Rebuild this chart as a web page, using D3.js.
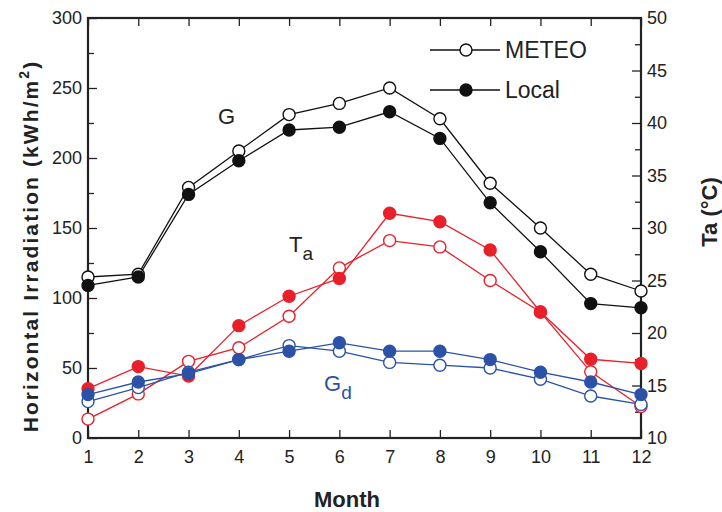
<!DOCTYPE html>
<html>
<head>
<meta charset="utf-8">
<script src="https://cdn.jsdelivr.net/npm/d3@7"></script>
<style>
  body { margin: 0; background: #fff; }
  text { font-family: "Liberation Sans Narrow", "Arial Narrow", "Liberation Sans", sans-serif; }
  .title { font-family: "Liberation Sans", Arial, sans-serif; font-weight: bold; }
</style>
</head>
<body>
<div id="chart"></div>
<script>
// monthly data
var months = [1, 2, 3, 4, 5, 6, 7, 8, 9, 10, 11, 12];

var gMeteo = [115, 117, 179, 205, 231, 239, 250, 228, 182, 150, 117, 105];
var gLocal = [109, 115, 174, 198, 220, 222, 233, 214, 168, 133, 96, 93];

var gdMeteo = [26, 36, 47, 56, 66, 62, 54, 52, 50, 42, 30, 24];
var gdLocal = [31, 40, 46, 56, 62, 68, 62, 62, 56, 47, 40, 31];

// air temperature, right axis (degC)
var taMeteo = [11.8, 14.2, 17.3, 18.6, 21.6, 26.2, 28.8, 28.2, 25.0, 22.0, 16.3, 13.0];
var taLocal = [14.7, 16.8, 15.9, 20.7, 23.5, 25.2, 31.4, 30.6, 27.9, 22.0, 17.5, 17.1];

var leftTicks = [0, 50, 100, 150, 200, 250, 300];
var rightTicks = [10, 15, 20, 25, 30, 35, 40, 45, 50];

var svgWidth = 722;
var svgHeight = 512;
var margin = { top: 18, right: 81, bottom: 74, left: 88 };
var width = svgWidth - margin.left - margin.right;
var height = svgHeight - margin.top - margin.bottom;

var red = "#e8202a";
var blue = "#2c52a8";

var svg = d3.select("#chart")
  .append("svg")
  .attr("width", svgWidth)
  .attr("height", svgHeight);

var chartGroup = svg.append("g")
  .attr("transform", `translate(${margin.left}, ${margin.top})`);

var xScale = d3.scaleLinear().domain([1, 12]).range([0, width]);
var yLeft = d3.scaleLinear().domain([0, 300]).range([height, 0]);
var yRight = d3.scaleLinear().domain([10, 50]).range([height, 0]);

// axes, ticks pointing inward
var bottomAxis = d3.axisBottom(xScale).tickValues(months).tickSizeInner(-8).tickSizeOuter(0).tickPadding(12);
var topAxis = d3.axisTop(xScale).tickValues(months).tickSizeInner(-8).tickSizeOuter(0).tickFormat("");
var leftAxis = d3.axisLeft(yLeft).tickValues(leftTicks).tickSizeInner(-9).tickSizeOuter(0).tickPadding(6);
var leftMinor = d3.axisLeft(yLeft).tickValues(d3.range(25, 300, 50)).tickSizeInner(-6).tickSizeOuter(0).tickFormat("");
var rightAxis = d3.axisRight(yRight).tickValues(rightTicks).tickSizeInner(-9).tickSizeOuter(0).tickPadding(6);
var rightMinor = d3.axisRight(yRight).tickValues(d3.range(12.5, 50, 5)).tickSizeInner(-6).tickSizeOuter(0).tickFormat("");

function styleAxis(g) {
  g.select(".domain").remove();
  g.selectAll(".tick line").attr("stroke", "#222").attr("stroke-width", 1.3);
  g.selectAll(".tick text").attr("fill", "#222").style("font-size", "18px");
}

chartGroup.append("g").attr("transform", `translate(0, ${height})`).call(bottomAxis).call(styleAxis);
chartGroup.append("g").call(topAxis).call(styleAxis);
chartGroup.append("g").call(leftAxis).call(styleAxis);
chartGroup.append("g").call(leftMinor).call(styleAxis);
chartGroup.append("g").attr("transform", `translate(${width}, 0)`).call(rightAxis).call(styleAxis);
chartGroup.append("g").attr("transform", `translate(${width}, 0)`).call(rightMinor).call(styleAxis);

// frame
chartGroup.append("rect")
  .attr("width", width)
  .attr("height", height)
  .attr("fill", "none")
  .attr("stroke", "#222")
  .attr("stroke-width", 2.2);

// series
var series = [
  { values: gMeteo, y: yLeft, color: "#111", open: true },
  { values: gLocal, y: yLeft, color: "#111", open: false },
  { values: taMeteo, y: yRight, color: red, open: true },
  { values: taLocal, y: yRight, color: red, open: false },
  { values: gdMeteo, y: yLeft, color: blue, open: true },
  { values: gdLocal, y: yLeft, color: blue, open: false }
];

series.forEach(function(s) {
  var line = d3.line()
    .x((d, i) => xScale(months[i]))
    .y(d => s.y(d));

  chartGroup.append("path")
    .datum(s.values)
    .attr("d", line)
    .attr("fill", "none")
    .attr("stroke", s.color)
    .attr("stroke-width", 1.3);

  chartGroup.selectAll(null)
    .data(s.values)
    .enter()
    .append("circle")
    .attr("cx", (d, i) => xScale(months[i]))
    .attr("cy", d => s.y(d))
    .attr("r", 6)
    .attr("fill", s.open ? "#fff" : s.color)
    .attr("stroke", s.color)
    .attr("stroke-width", 1.4);
});

// series labels
chartGroup.append("text")
  .attr("x", 130).attr("y", 106)
  .style("font-size", "22px").attr("fill", "#222")
  .text("G");

var taLabel = chartGroup.append("text")
  .attr("x", 201).attr("y", 234)
  .style("font-size", "22px").attr("fill", "#222");
taLabel.append("tspan").text("T");
taLabel.append("tspan").attr("dy", 8).style("font-size", "19px").text("a");

var gdLabel = chartGroup.append("text")
  .attr("x", 236).attr("y", 373)
  .style("font-size", "22px").attr("fill", blue);
gdLabel.append("tspan").text("G");
gdLabel.append("tspan").attr("dy", 8).style("font-size", "19px").text("d");

// legend
var legendItems = [
  { label: "METEO", open: true, y: 32 },
  { label: "Local", open: false, y: 72 }
];

legendItems.forEach(function(item) {
  var g = chartGroup.append("g").attr("transform", `translate(342, ${item.y})`);
  g.append("line")
    .attr("x1", 0).attr("x2", 70)
    .attr("stroke", "#111").attr("stroke-width", 1.3);
  g.append("circle")
    .attr("cx", 36).attr("r", 6)
    .attr("fill", item.open ? "#fff" : "#111")
    .attr("stroke", "#111").attr("stroke-width", 1.4);
  g.append("text")
    .attr("x", 75).attr("dy", "0.35em")
    .style("font-size", "23px").attr("fill", "#222")
    .text(item.label);
});

// axis titles
var yTitle = svg.append("text")
  .attr("class", "title")
  .attr("transform", `translate(38, 246) rotate(-90)`)
  .attr("text-anchor", "middle")
  .style("font-size", "21px")
  .style("letter-spacing", "2.1px")
  .attr("fill", "#222");
yTitle.append("tspan").text("Horizontal Irradiation (kWh/m");
yTitle.append("tspan").attr("dy", -9).style("font-size", "14px").text("2");
yTitle.append("tspan").attr("dy", 9).text(")");

svg.append("text")
  .attr("class", "title")
  .attr("transform", `translate(717, 212) rotate(-90)`)
  .attr("text-anchor", "middle")
  .style("font-size", "22px")
  .attr("fill", "#222")
  .text("Ta (°C)");

svg.append("text")
  .attr("class", "title")
  .attr("x", 347)
  .attr("y", 507)
  .attr("text-anchor", "middle")
  .style("font-size", "22px")
  .attr("fill", "#222")
  .text("Month");
</script>
</body>
</html>
